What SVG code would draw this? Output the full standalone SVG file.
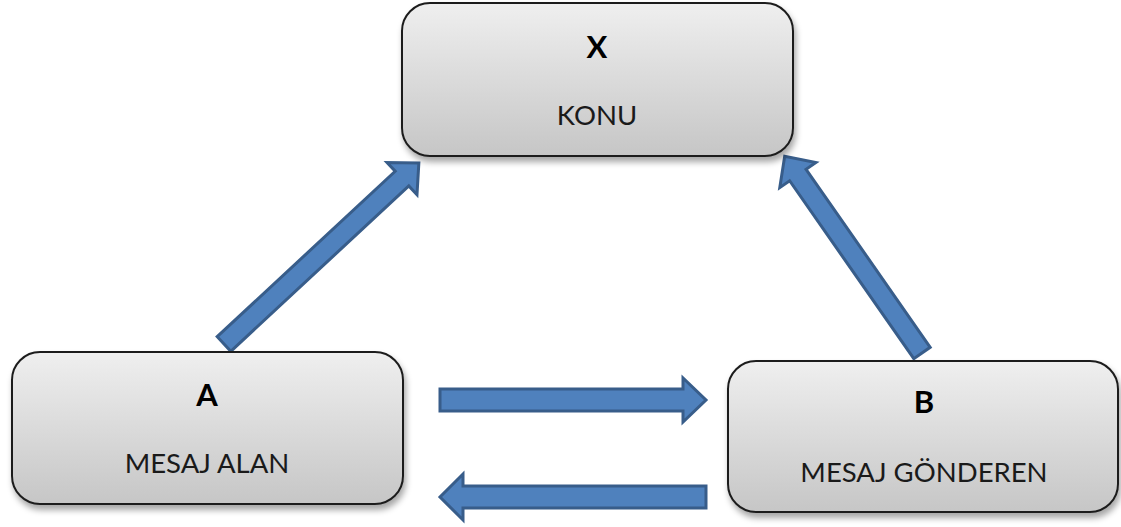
<svg xmlns="http://www.w3.org/2000/svg" width="1121" height="527" viewBox="0 0 1121 527">
<defs>
<linearGradient id="g" x1="0" y1="0" x2="0" y2="1">
<stop offset="0" stop-color="#efefef"/>
<stop offset="1" stop-color="#c6c6c6"/>
</linearGradient>
<filter id="sh" x="-10%" y="-10%" width="125%" height="140%">
<feDropShadow dx="2" dy="5" stdDeviation="3" flood-color="#000" flood-opacity="0.35"/>
</filter>
<style>
.box{fill:url(#g);stroke:#1e1e1e;stroke-width:2;filter:url(#sh)}
.t{font-family:Lato,"Open Sans","Liberation Sans",sans-serif;font-size:27.5px;fill:#1a1a1a;text-anchor:middle}
.b{font-family:Lato,"Open Sans","Liberation Sans",sans-serif;font-size:31px;font-weight:bold;fill:#000;text-anchor:middle}
.arr{fill:#4f81bd;stroke:#385d8a;stroke-width:3;stroke-linejoin:miter}
</style>
</defs>
<rect width="1121" height="527" fill="#fff"/>
<g id="connectors">
<polygon class="arr" transform="translate(224,344) rotate(-42.9)" points="0,-10 243,-10 243,-22 266,0 243,22 243,10 0,10"/>
<polygon class="arr" transform="translate(922,353) rotate(-124.9)" points="0,-10 217,-10 217,-22 240,0 217,22 217,10 0,10"/>
<polygon class="arr" transform="translate(440,400)" points="0,-11 243,-11 243,-22 266,0 243,22 243,11 0,11"/>
<polygon class="arr" transform="translate(706,497) rotate(180)" points="0,-11 243,-11 243,-23 266,0 243,23 243,11 0,11"/>
</g>
<g id="node-x">
<rect class="box" x="402" y="3" width="391" height="153" rx="28"/>
<text class="b" x="597" y="58">X</text>
<text class="t" x="597" y="125">KONU</text>
</g>
<g id="node-a">
<rect class="box" x="12" y="352" width="391" height="152" rx="28"/>
<text class="b" x="207" y="406">A</text>
<text class="t" x="207" y="473">MESAJ ALAN</text>
</g>
<g id="node-b">
<rect class="box" x="728" y="361" width="390" height="151" rx="28"/>
<text class="b" x="924" y="413">B</text>
<text class="t" x="924" y="482">MESAJ GÖNDEREN</text>
</g>
</svg>
